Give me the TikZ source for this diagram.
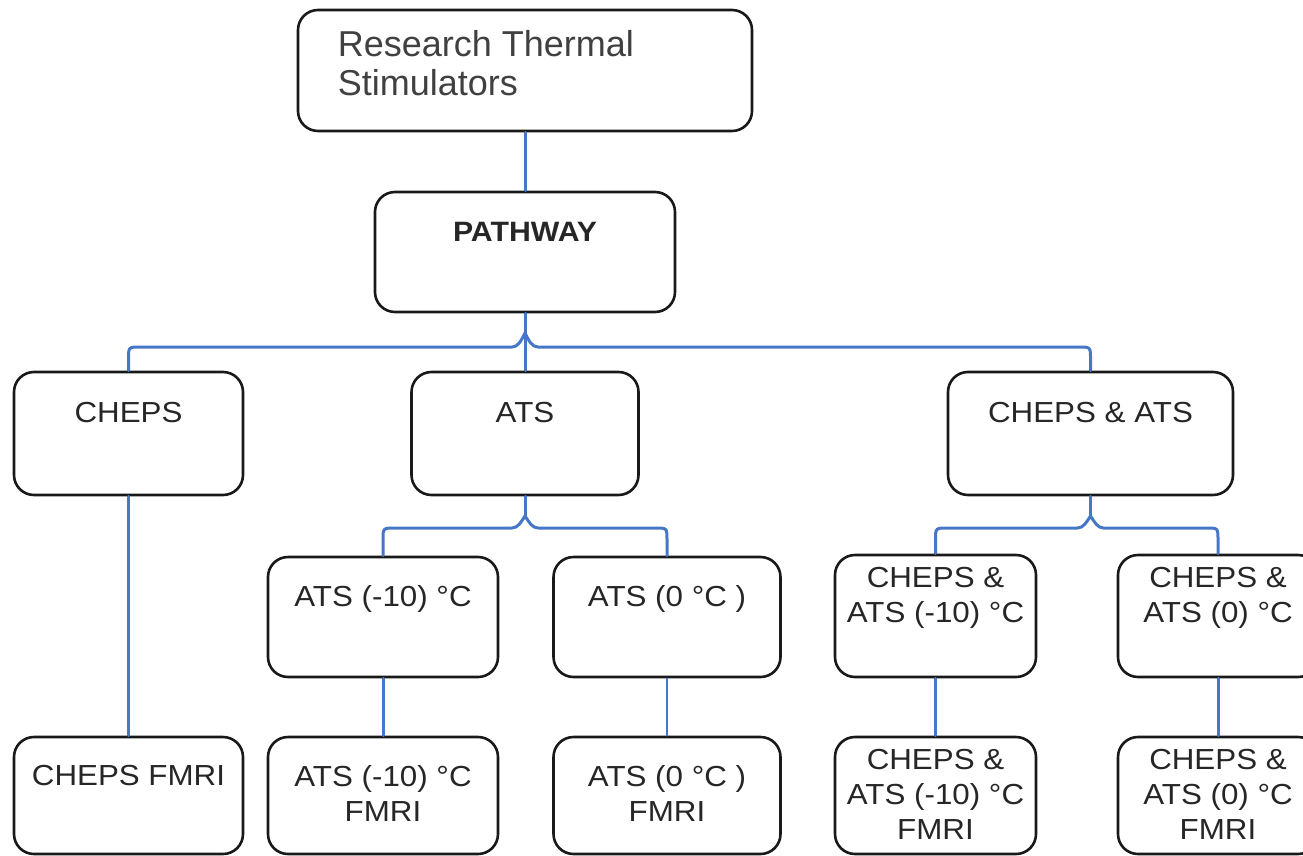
\documentclass[tikz,border=0pt]{standalone}
\usepackage{fontspec}
\setmainfont{Liberation Sans}[FakeStretch=1.08]
\newfontfamily\titlefont{Liberation Sans}
\definecolor{linkblue}{RGB}{70,118,198}
\begin{document}
\begin{tikzpicture}[x=1pt, y=-1pt, line join=round, line cap=round,
	font=\fontsize{29}{35}\selectfont,
	box/.style={draw=black!90, line width=2.6pt, rounded corners=20pt, inner sep=0pt},
	txt/.style={anchor=north, align=center, inner sep=0pt, text=black!85, yshift=-#1},
	txt/.default=31pt,
	link/.style={linkblue, line width=3pt}]
	\clip (0,0) rectangle (1303,856);
	% top levels
	\node[box, minimum width=454pt, minimum height=121pt,
		label={[txt=22pt, anchor=north west, align=left, xshift=41pt, text=black!75, font=\titlefont\fontsize{36}{39}\selectfont]north west:{Research Thermal\\Stimulators}}] (research) at (525,70.5) {};
	\node[box, minimum width=300pt, minimum height=120pt,
		label={[txt, font=\bfseries\fontsize{28}{34}\selectfont]north:{PATHWAY}}] (pathway) at (525,252) {};
	% second level
	\node[box, minimum width=229pt, minimum height=123pt, label={[txt]north:{CHEPS}}] (cheps) at (128.5,433.5) {};
	\node[box, minimum width=227pt, minimum height=123pt, label={[txt]north:{ATS}}] (ats) at (525,433.5) {};
	\node[box, minimum width=285pt, minimum height=123pt, label={[txt]north:{CHEPS \& ATS}}] (chepsats) at (1090.5,433.5) {};
	% third level
	\node[box, minimum width=230pt, minimum height=120pt, label={[txt=30pt]north:{ATS (-10) °C}}] (atsm) at (383,617) {};
	\node[box, minimum width=227pt, minimum height=120pt, label={[txt=30pt]north:{ATS (0 °C )}}] (atsz) at (667,617) {};
	\node[box, minimum width=201pt, minimum height=122pt, label={[txt=13pt]north:{CHEPS \&\\ATS (-10) °C}}] (camt) at (935.5,616) {};
	\node[box, minimum width=200pt, minimum height=122pt, label={[txt=13pt]north:{CHEPS \&\\ATS (0) °C}}] (caz) at (1218,616) {};
	% fmri level
	\node[box, minimum width=229pt, minimum height=117pt, label={[txt=29pt]north:{CHEPS FMRI}}] (chepsF) at (128.5,795.5) {};
	\node[box, minimum width=230pt, minimum height=117pt, label={[txt=30pt]north:{ATS (-10) °C\\FMRI}}] (atsmF) at (383,795.5) {};
	\node[box, minimum width=227pt, minimum height=117pt, label={[txt=30pt]north:{ATS (0 °C )\\FMRI}}] (atszF) at (667,795.5) {};
	\node[box, minimum width=201pt, minimum height=117pt, label={[txt=13pt]north:{CHEPS \&\\ATS (-10) °C\\FMRI}}] (camtF) at (935.5,795.5) {};
	\node[box, minimum width=200pt, minimum height=117pt, label={[txt=13pt]north:{CHEPS \&\\ATS (0) °C\\FMRI}}] (cazF) at (1218,795.5) {};
	% brace tips
	\coordinate (pathtip) at (525,333);
	\coordinate (atstip) at (525,516);
	\coordinate (catip) at (1090.5,516);
	% links
	\draw[link] (research) -- (pathway);
	\draw[link] (pathway) -- (ats);
	\draw[link] (chepsats.south) -- (catip);
	\draw[link] (ats.south) -- (atstip);
	\draw[link] (cheps.north) -- (128.5,359) .. controls (128.5,347) .. (140.5,347) -- (512,347)
		.. controls (518,347) and (521,341) .. (pathtip)
		.. controls (529,341) and (532,347) .. (538,347) -- (1078.5,347)
		.. controls (1090.5,347) .. (1090.5,359) -- (chepsats.north);
	\draw[link] (atsm.north) -- (383,540) .. controls (383,528) .. (395,528) -- (512,528)
		.. controls (518,528) and (521,522) .. (atstip)
		.. controls (529,522) and (532,528) .. (538,528) -- (655,528)
		.. controls (667,528) .. (667,540) -- (atsz.north);
	\draw[link] (camt.north) -- (935.5,540) .. controls (935.5,528) .. (947.5,528) -- (1077.5,528)
		.. controls (1083.5,528) and (1086.5,522) .. (catip)
		.. controls (1094.5,522) and (1097.5,528) .. (1103.5,528) -- (1206,528)
		.. controls (1218,528) .. (1218,540) -- (caz.north);
	\draw[link] (cheps) -- (chepsF);
	\draw[link] (atsm) -- (atsmF);
	\draw[link, line width=1.5pt] (atsz) -- (atszF);
	\draw[link] (camt) -- (camtF);
	\draw[link] (caz) -- (cazF);
\end{tikzpicture}
\end{document}
